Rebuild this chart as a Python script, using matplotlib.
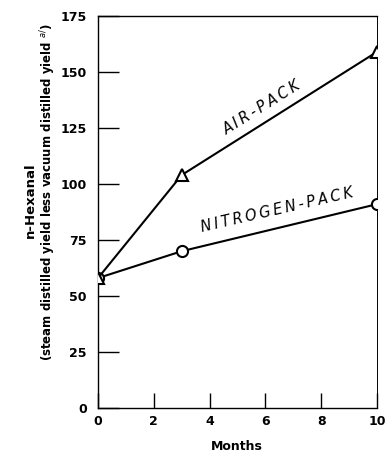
import matplotlib
matplotlib.use("Agg")
import matplotlib.pyplot as plt

months = [0, 3, 10]
air_pack = [58, 104, 159]
nitrogen_pack = [58, 70, 91]
x_ticks = [0, 2, 4, 6, 8, 10]
y_ticks = [0, 25, 50, 75, 100, 125, 150, 175]


def spaced(s):
    # the hand lettering on the original is widely spaced
    return "\u2009".join(s)


W, H = 385, 466
fig = plt.figure(figsize=(W / 100, H / 100), dpi=100)
ax = fig.add_axes([98 / W, 1 - 408 / H, (377 - 98) / W, (408 - 16) / H])

ax.plot(months, nitrogen_pack, color="black", lw=1.5, marker="o", ms=8,
        mfc="white", mec="black", mew=1.5, zorder=3)
ax.plot(months, air_pack, color="black", lw=1.5, marker="^", ms=9,
        mfc="white", mec="black", mew=1.5, zorder=4)

ax.set_xlim(0, 10)
ax.set_ylim(0, 175)
ax.set_xticks(x_ticks)
ax.set_yticks(y_ticks)
ax.tick_params(axis="y", direction="in", length=15, width=1, pad=8, labelsize=9)
ax.tick_params(axis="x", direction="in", length=11, width=1, pad=5, labelsize=9)
for lab in ax.get_xticklabels() + ax.get_yticklabels():
    lab.set_fontweight("bold")
for s in ax.spines.values():
    s.set_linewidth(1)
ax.spines["right"].set_linewidth(0.7)

ax.text(5.88, 134, spaced("AIR-PACK"), rotation=32, fontsize=10.5,
        style="italic", ha="center", va="center", rotation_mode="anchor")
ax.text(6.42, 88.5, spaced("NITROGEN-PACK"), rotation=13, fontsize=10.5,
        style="italic", ha="center", va="center", rotation_mode="anchor")

fig.text(30 / W, 1 - 200 / H, "n-Hexanal", rotation=90, fontsize=9.5,
         fontweight="bold", ha="center", va="center")
fig.text(48 / W, 1 - 192 / H,
         "(steam distilled yield less vacuum distilled yield $^{a/}$)",
         rotation=90, fontsize=8.5, fontweight="bold", ha="center", va="center")
fig.text(237 / W, 1 - 446 / H, "Months", fontsize=9, fontweight="bold",
         ha="center", va="center")

fig.savefig("out.png", dpi=100)
